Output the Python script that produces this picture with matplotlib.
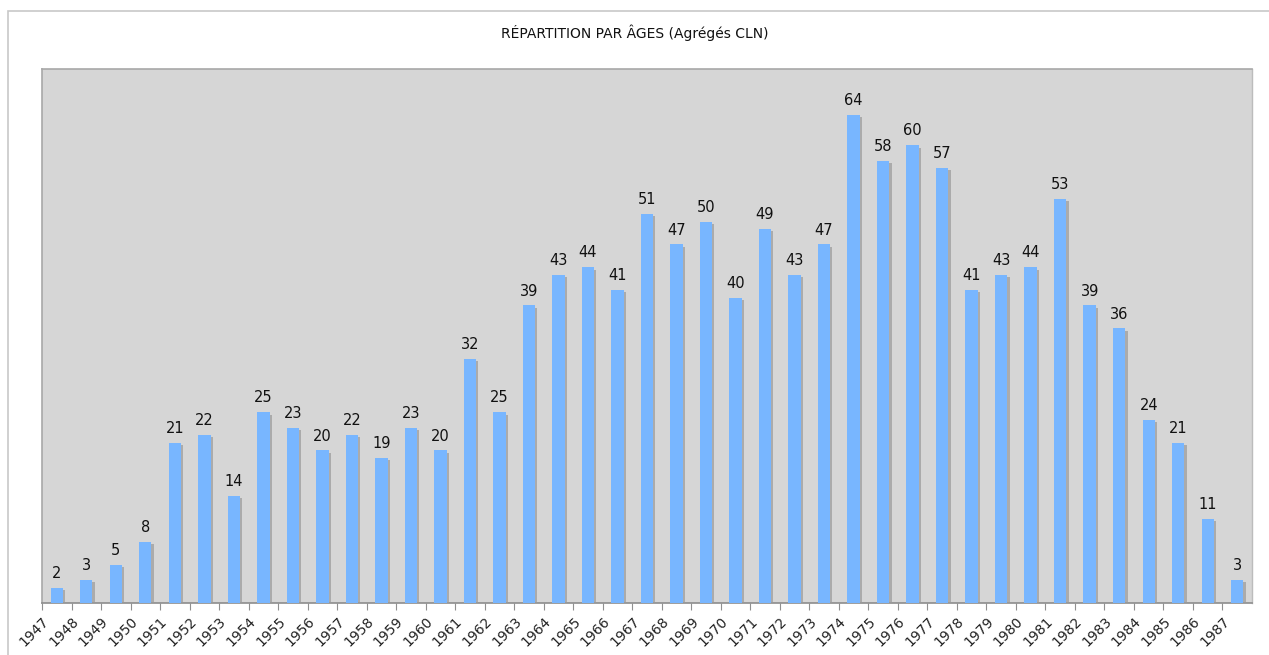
import numpy as np
import matplotlib.pyplot as plt
import matplotlib.patheffects as pe
from matplotlib.patches import Rectangle

years = [str(y) for y in range(1947, 1988)]
counts = [2, 3, 5, 8, 21, 22, 14, 25, 23, 20, 22, 19, 23, 20, 32, 25, 39, 43, 44, 41,
          51, 47, 50, 40, 49, 43, 47, 64, 58, 60, 57, 41, 43, 44, 53, 39, 36, 24, 21, 11, 3]

fig = plt.figure(figsize=(12.69, 6.55), dpi=100)
# outer frame, open at the bottom and right like the cropped screenshot
fig.patches.append(Rectangle((8 / 1269, -0.05), 1.1, 1.05 - 11 / 655, transform=fig.transFigure,
                             fill=False, edgecolor='#c8c8c8', linewidth=1.2))
ax = fig.add_axes([42 / 1269, 52 / 655, 1210 / 1269, 534 / 655])
ax.set_facecolor('#d6d6d6')

x = np.arange(len(years))
bars = ax.bar(x, counts, width=0.42, color='#78b6ff', zorder=3)
for b in bars:
    b.set_path_effects([pe.SimplePatchShadow(offset=(1.6, -1.6), shadow_rgbFace='#9a9a9a', alpha=0.7),
                        pe.Normal()])

for xi, c in zip(x, counts):
    ax.text(xi, c + 0.9, str(c), ha='center', va='bottom', fontsize=10.5, color='#111111')

ax.set_xlim(-0.5, len(years) - 0.5)
ax.set_ylim(0, 70)
ax.set_yticks([])
ax.set_xticks(x - 0.5)
ax.set_xticklabels(years, rotation=45, ha='right', rotation_mode='anchor', fontsize=10,
                   color='#222222')
ax.tick_params(axis='x', length=5, color='#909090', pad=3)

for s in ax.spines.values():
    s.set_color('#a8a8a8')
    s.set_linewidth(1.2)
ax.spines['bottom'].set_color('#8c8c8c')
ax.spines['right'].set_color('#bcbcbc')
ax.spines['right'].set_linewidth(1.0)

fig.text(0.5, 1 - 33 / 655, 'RÉPARTITION PAR ÂGES (Agrégés CLN)', ha='center', va='center',
         fontsize=10, color='#111111')

fig.savefig('out.png', dpi=100)
